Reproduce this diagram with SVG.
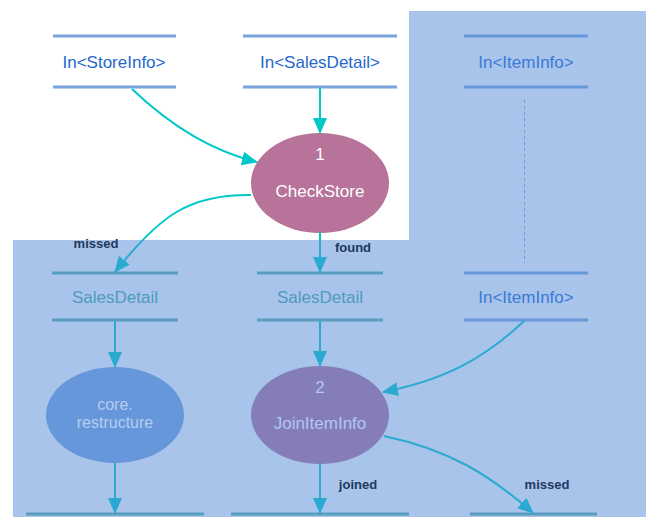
<svg xmlns="http://www.w3.org/2000/svg" width="650" height="517" viewBox="0 0 650 517">
<style>
.t{font-family:"Liberation Sans",Arial,sans-serif;font-size:17px;text-anchor:middle}
.t2{font-family:"Liberation Sans",Arial,sans-serif;font-size:16px;text-anchor:middle}
.lbl{font-family:"Liberation Sans",Arial,sans-serif;font-size:13px;font-weight:bold;fill:#22385e;text-anchor:middle}
.c{fill:none;stroke-width:2}
.cw{stroke:#00c8c8}
.cb{stroke:#2aaad0}
.ln1{stroke:#7ba3de;stroke-width:3}
.ln2{stroke:#6698da;stroke-width:3}
.ln3{stroke:#569dbf;stroke-width:3}
</style>
<defs>
<marker id="aw" markerUnits="userSpaceOnUse" markerWidth="16" markerHeight="16" viewBox="0 0 16 16" refX="15" refY="8" orient="auto"><path d="M0,1 L16,8 L0,15 Z" fill="#00c8c8"/></marker>
<marker id="ab" markerUnits="userSpaceOnUse" markerWidth="16" markerHeight="16" viewBox="0 0 16 16" refX="15" refY="8" orient="auto"><path d="M0,1 L16,8 L0,15 Z" fill="#2aaad0"/></marker>
<linearGradient id="gsplit" gradientUnits="userSpaceOnUse" x1="0" y1="0" x2="0" y2="517">
<stop offset="0.4642" stop-color="#00c8c8"/><stop offset="0.4642" stop-color="#2aaad0"/>
</linearGradient>
</defs>
<rect width="650" height="517" fill="#ffffff"/>
<path d="M409,11 H646 V517 H13 V240 H409 Z" fill="#a8c4ea"/>

<g id="n-storeinfo">
<line class="ln1" x1="53" y1="36" x2="176" y2="36"/><line class="ln1" x1="53" y1="87" x2="176" y2="87"/>
<text class="t" x="114" y="68" fill="#2467cc">In&lt;StoreInfo&gt;</text>
</g>
<g id="n-salesdetail-in">
<line class="ln1" x1="243" y1="36" x2="397" y2="36"/><line class="ln1" x1="243" y1="87" x2="397" y2="87"/>
<text class="t" x="320" y="68" fill="#2467cc">In&lt;SalesDetail&gt;</text>
</g>
<g id="n-iteminfo-top">
<line class="ln2" x1="464" y1="36" x2="588" y2="36"/><line class="ln2" x1="464" y1="87" x2="588" y2="87"/>
<text class="t" x="526" y="68" fill="#3a7ad6">In&lt;ItemInfo&gt;</text>
</g>
<g id="n-checkstore">
<ellipse cx="320" cy="183" rx="69" ry="50" fill="#b77399"/>
<text class="t" x="320" y="160" fill="#ffffff">1</text>
<text class="t" x="320" y="197" fill="#ffffff">CheckStore</text>
</g>
<g id="n-salesdetail-missed">
<line class="ln3" x1="52" y1="273" x2="178" y2="273"/><line class="ln3" x1="52" y1="320" x2="178" y2="320"/>
<text class="t" x="115" y="303" fill="#4e9bbd">SalesDetail</text>
</g>
<g id="n-salesdetail-found">
<line class="ln3" x1="257" y1="273" x2="383" y2="273"/><line class="ln3" x1="257" y1="320" x2="383" y2="320"/>
<text class="t" x="320" y="303" fill="#4e9bbd">SalesDetail</text>
</g>
<g id="n-iteminfo">
<line class="ln2" x1="464" y1="273" x2="588" y2="273"/><line class="ln2" x1="464" y1="320" x2="588" y2="320"/>
<text class="t" x="526" y="303" fill="#3a7ad6">In&lt;ItemInfo&gt;</text>
</g>
<g id="n-restructure">
<ellipse cx="115" cy="415" rx="69" ry="48" fill="#6797db"/>
<text class="t2" x="115" y="410" fill="#b4cdf0">core.</text>
<text class="t2" x="115" y="428" fill="#b4cdf0">restructure</text>
</g>
<g id="n-joiniteminfo">
<ellipse cx="320" cy="415" rx="69" ry="49" fill="#857db8"/>
<text class="t" x="320" y="393" fill="#b2c8ee">2</text>
<text class="t" x="320" y="429" fill="#b2c8ee">JoinItemInfo</text>
</g>
<g id="n-out-restructure">
<line class="ln3" x1="26" y1="514" x2="204" y2="514"/>
</g>
<g id="n-out-joined">
<line class="ln3" x1="231" y1="514" x2="409" y2="514"/>
</g>
<g id="n-out-missed">
<line class="ln3" x1="470" y1="514" x2="597" y2="514"/>
</g>

<g id="connectors">
<path class="c cw" d="M132,89 C175,130 215,152 257,162" marker-end="url(#aw)"/>
<path class="c cw" d="M320,88 V133" marker-end="url(#aw)"/>
<path class="c" stroke="url(#gsplit)" d="M251,195 C190,194 160,215 115,272" marker-end="url(#ab)"/>
<path class="c" d="M320,232 V272" stroke="url(#gsplit)" marker-end="url(#ab)"/>
<path class="c cb" d="M115,321 V367" marker-end="url(#ab)"/>
<path class="c cb" d="M320,321 V366" marker-end="url(#ab)"/>
<path class="c cb" d="M524,321 C485,358 445,380 383,392" marker-end="url(#ab)"/>
<path class="c cb" d="M115,463 V513" marker-end="url(#ab)"/>
<path class="c cb" d="M320,464 V513" marker-end="url(#ab)"/>
<path class="c cb" d="M384,436 C450,450 490,475 533,513" marker-end="url(#ab)"/>
<line x1="524.5" y1="100" x2="524.5" y2="263" stroke="#6a98dc" stroke-width="1" stroke-dasharray="3,3"/>
<text class="lbl" x="96" y="248">missed</text>
<text class="lbl" x="353" y="252">found</text>
<text class="lbl" x="358" y="489">joined</text>
<text class="lbl" x="547" y="489">missed</text>
</g>
</svg>
